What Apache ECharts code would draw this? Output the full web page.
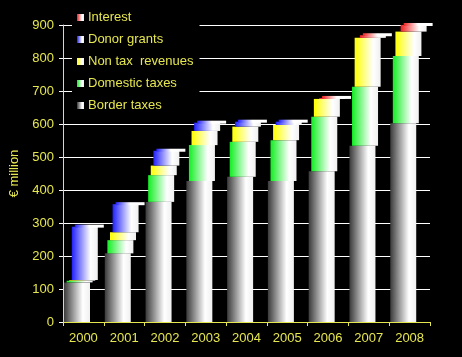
<!DOCTYPE html>
<html><head><meta charset="utf-8">
<script src="https://cdn.jsdelivr.net/npm/echarts@6/dist/echarts.min.js"></script>
<style>html,body{margin:0;padding:0;background:#000;}#c{width:462px;height:357px;}</style>
</head><body><div id="c"></div>
<script>
const years = ['2000','2001','2002','2003','2004','2005','2006','2007','2008'];
const borderTaxes    = [120, 208, 364, 427, 440, 427, 457, 534, 602];
const domesticTaxes  = [5, 40, 81, 109, 106, 124, 165, 179, 204];
const nonTaxRevenues = [2, 24, 29, 43, 46, 46, 54, 148, 74];
const donorGrants    = [162, 85, 45, 25, 15, 10, 0, 0, 0];
const interest       = [0, 0, 0, 0, 0, 0, 3, 8, 20];
const yTicks = [0, 900, 100];

const txt = '#e6e650';
function grad(c0, c1) {
  return new echarts.graphic.LinearGradient(0, 0, 1, 0, [
    {offset: 0, color: c0}, {offset: 0.72, color: c1}, {offset: 1, color: '#f0f0f0'}
  ]);
}
const layers = [
  {name: 'Border taxes', data: borderTaxes, c0: '#3a3a3a'},
  {name: 'Domestic taxes', data: domesticTaxes, c0: '#11ee22'},
  {name: 'Non tax  revenues', data: nonTaxRevenues, c0: '#ffff00'},
  {name: 'Donor grants', data: donorGrants, c0: '#2020ff'},
  {name: 'Interest', data: interest, c0: '#ee2020'}
];
// stacked bases/tops and topmost layer per category
const cum = years.map(() => 0);
const topLayer = years.map((_, i) => {
  let t = 0; layers.forEach((l, k) => { if (l.data[i] > 0) t = k; }); return t;
});
const seriesList = layers.map((l, k) => {
  const data = years.map((y, i) => {
    const base = cum[i]; cum[i] += l.data[i];
    return [i, base, cum[i], l.data[i], topLayer[i] === k ? 1 : 0];
  });
  const color = grad(l.c0, '#ffffff');
  return {
    name: l.name, type: 'custom', data: data,
    itemStyle: {color: color},
    encode: {x: 0, y: [1, 2]},
    renderItem: function (params, api) {
      if (api.value(3) <= 0) return null;
      const cat = api.value(0);
      const p0 = api.coord([cat, api.value(1)]);
      const p1 = api.coord([cat, api.value(2)]);
      const band = api.size([1, 0])[0];
      const x0 = p0[0] - band / 2 + 1 + k * 2.6;
      const w = 26;
      const children = [{
        type: 'rect',
        shape: {x: x0, y: p1[1], width: w, height: p0[1] - p1[1]},
        style: {fill: grad(l.c0, '#ffffff')}
      }];
      if (api.value(4) === 1) {
        children.push({
          type: 'rect',
          shape: {x: x0 + 3, y: p1[1] - 2, width: w + 3, height: 3},
          style: {fill: new echarts.graphic.LinearGradient(0, 0, 1, 0, [
            {offset: 0, color: l.c0}, {offset: 0.5, color: '#ffffff'}, {offset: 1, color: '#ffffff'}
          ])}
        });
      }
      return {type: 'group', children: children};
    }
  };
});

const chart = echarts.init(document.getElementById('c'));
chart.setOption({
  backgroundColor: '#000',
  animation: false,
  textStyle: {fontFamily: 'Liberation Sans'},
  grid: {left: 61, right: 32, top: 25, bottom: 35},
  legend: {
    orient: 'vertical', left: 72, top: 8, padding: [3, 6, 3, 5],
    backgroundColor: '#000',
    itemWidth: 7, itemHeight: 7, itemGap: 9, icon: 'rect',
    data: ['Interest', 'Donor grants', 'Non tax  revenues', 'Domestic taxes', 'Border taxes'],
    textStyle: {color: txt, fontSize: 13, fontFamily: 'Liberation Sans', padding: [0, 0, 0, -1]}
  },
  xAxis: {
    type: 'category', data: years,
    axisLine: {lineStyle: {color: txt, width: 1}},
    axisTick: {show: true, lineStyle: {color: txt}, length: 4},
    axisLabel: {color: txt, fontSize: 13, margin: 10}
  },
  yAxis: {
    type: 'value', min: yTicks[0], max: yTicks[1], interval: yTicks[2],
    name: '€ million', nameLocation: 'middle', nameGap: 42, nameRotate: 90,
    nameTextStyle: {color: txt, fontSize: 13},
    axisLine: {show: true, lineStyle: {color: txt}},
    axisTick: {show: true, length: 4, lineStyle: {color: '#ffffff'}},
    axisLabel: {color: txt, fontSize: 13, margin: 9},
    splitLine: {lineStyle: {color: '#ffffff', width: 1}}
  },
  series: seriesList
});
</script></body></html>
